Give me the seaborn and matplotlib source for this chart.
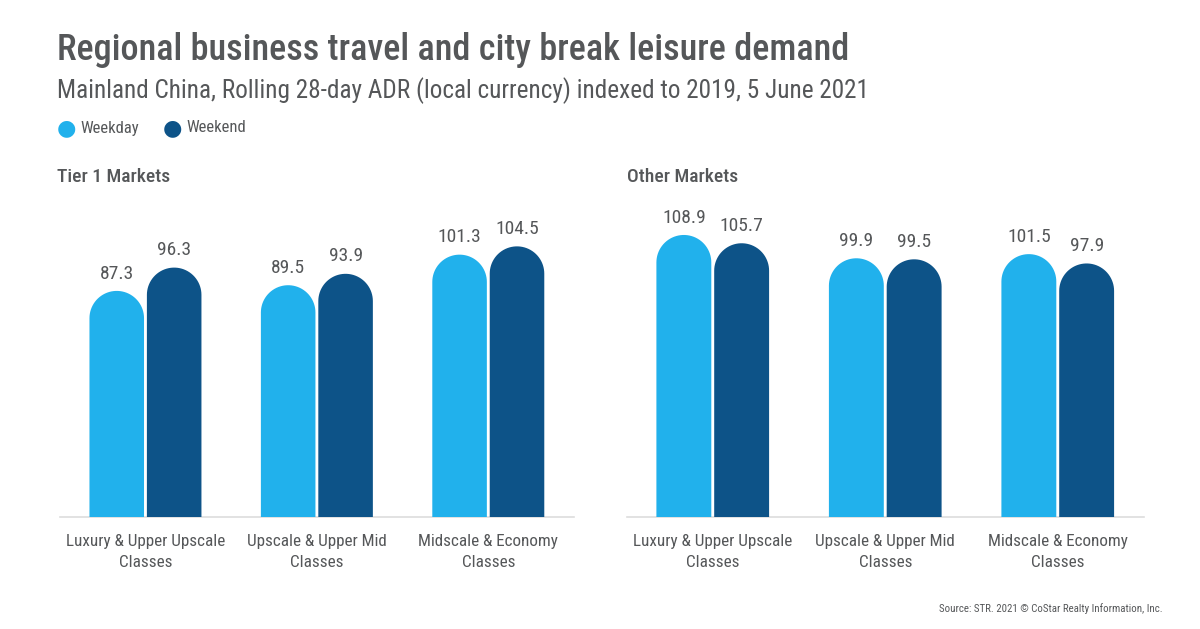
import numpy as np
import pandas as pd
import matplotlib
matplotlib.use("Agg")
import matplotlib.pyplot as plt
from matplotlib.path import Path
from matplotlib.patches import PathPatch
import seaborn as sns

# ---- data ----
categories = ["Luxury & Upper Upscale\nClasses", "Upscale & Upper Mid\nClasses", "Midscale & Economy\nClasses"]
series = ["Weekday", "Weekend"]
tier1_weekday = [87.3, 89.5, 101.3]
tier1_weekend = [96.3, 93.9, 104.5]
other_weekday = [108.9, 99.9, 101.5]
other_weekend = [105.7, 99.5, 97.9]
panel_titles = ["Tier 1 Markets", "Other Markets"]

colors = {"Weekday": "#21B1EC", "Weekend": "#0D5388"}
TXT = "#555759"

sns.set_theme(style="white")
FONT = ["Roboto Condensed", "Archivo Narrow", "Roboto", "DejaVu Sans"]
plt.rcParams["font.family"] = FONT

W, H = 1200, 629
fig = plt.figure(figsize=(W / 100, H / 100), dpi=100)

def long_df(wd, we):
    rows = []
    for c, a, b in zip(categories, wd, we):
        rows.append((c, "Weekday", a))
        rows.append((c, "Weekend", b))
    return pd.DataFrame(rows, columns=["cat", "series", "value"])

YMAX = 122.4
axes_px = [(59.75, 574.0), (626.5, 1144.0)]
bottom_px, top_px = 517, 200

def rounded_bar(ax, x0, w, h, color, ry):
    n = 40
    xc = x0 + w / 2
    rx = w / 2
    yc = h - ry
    t = np.linspace(np.pi, 0, n)
    arc = np.column_stack([xc + rx * np.cos(t), yc + ry * np.sin(t)])
    verts = np.vstack([[x0, 0], [x0, yc], arc, [x0 + w, 0], [x0, 0]])
    codes = [Path.MOVETO] + [Path.LINETO] * (len(verts) - 2) + [Path.CLOSEPOLY]
    ax.add_patch(PathPatch(Path(verts, codes), facecolor=color, edgecolor="none", zorder=3))

datasets = [(tier1_weekday, tier1_weekend), (other_weekday, other_weekend)]
for i, ((wd, we), (l, r)) in enumerate(zip(datasets, axes_px)):
    ax = fig.add_axes([l / W, 1 - bottom_px / H, (r - l) / W, (bottom_px - top_px) / H])
    df = long_df(wd, we)
    sns.barplot(data=df, x="cat", y="value", hue="series", palette=colors, saturation=1,
                width=0.67, gap=0.05, ax=ax, legend=False, errorbar=None)
    ax.set_xlim(-0.5, 2.5)
    ax.set_ylim(0, YMAX)
    ax_w_px = r - l
    ax_h_px = bottom_px - top_px
    for cont in ax.containers:
        for p in cont.patches:
            w = p.get_width()
            r_px = w * ax_w_px / 3 / 2
            ry = r_px * YMAX / ax_h_px
            rounded_bar(ax, p.get_x(), w, p.get_height(), p.get_facecolor(), ry)
            p.set_visible(False)
        ax.bar_label(cont, fmt="%.1f", padding=6, fontsize=14, color=TXT, family=FONT)
    sns.despine(ax=ax, left=True, top=True, right=True)
    ax.spines["bottom"].set_color("#DDDDDD")
    ax.spines["bottom"].set_linewidth(1.2)
    ax.set_yticks([])
    ax.set_xlabel("")
    ax.set_ylabel("")
    ax.tick_params(axis="x", length=0, pad=12, labelsize=12.3, labelcolor=TXT)
    for t in ax.get_xticklabels():
        t.set_linespacing(1.55)
    fig.text((57 if i == 0 else 627) / W, 1 - 177 / H, panel_titles[i], fontsize=14,
             color=TXT, fontweight="medium", va="center", ha="left")

fig.text(57 / W, 1 - 50 / H, "Regional business travel and city break leisure demand",
         fontsize=26, fontweight="medium", color=TXT, va="center", ha="left")
fig.text(57 / W, 1 - 91 / H, "Mainland China, Rolling 28-day ADR (local currency) indexed to 2019, 5 June 2021",
         fontsize=18.2, color=TXT, va="center", ha="left")

# legend
for x, s in [(66, "Weekday"), (172, "Weekend")]:
    fig.text(x / W, 1 - 128 / H, "●", fontsize=16, color=colors[s], ha="center", va="center",
             family=["DejaVu Sans"])
    fig.text((x + 14) / W, 1 - 128 / H, s, fontsize=12, color=TXT, ha="left", va="center")

fig.text(1163 / W, 1 - 609 / H, "Source: STR. 2021 © CoStar Realty Information, Inc.",
         fontsize=7.8, color=TXT, ha="right", va="center")

fig.savefig("out.png", dpi=100, facecolor="white")
